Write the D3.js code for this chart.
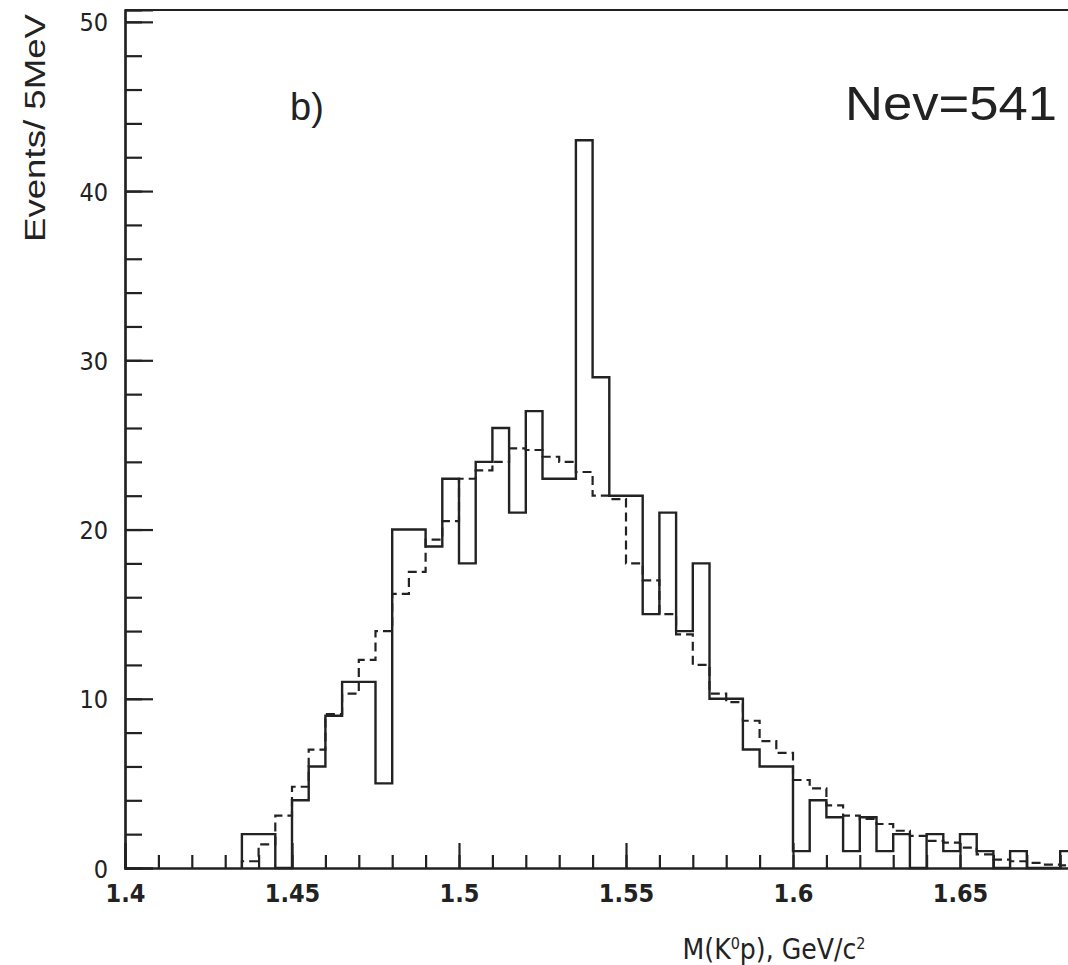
<!DOCTYPE html>
<html>
<head>
<meta charset="utf-8">
<script src="https://cdn.jsdelivr.net/npm/d3@7"></script>
<style>
    body { margin: 0; background: #fff; }
    svg { display: block; }
    text { fill: #222; font-family: "Liberation Sans Narrow", "DejaVu Sans Condensed", "Arial Narrow", "Liberation Sans", sans-serif; }
</style>
</head>
<body>
<svg id="canvas"></svg>
<script>
// bin low edges (GeV/c^2), 5 MeV bins
const BIN_EDGES = [
    1.435, 1.44, 1.445, 1.45, 1.455, 1.46, 1.465, 1.47, 1.475, 1.48,
    1.485, 1.49, 1.495, 1.50, 1.505, 1.51, 1.515, 1.52, 1.525, 1.53,
    1.535, 1.54, 1.545, 1.55, 1.555, 1.56, 1.565, 1.57, 1.575, 1.58,
    1.585, 1.59, 1.595, 1.60, 1.605, 1.61, 1.615, 1.62, 1.625, 1.63,
    1.635, 1.64, 1.645, 1.65, 1.655, 1.66, 1.665, 1.67, 1.675, 1.68
];
const BIN_WIDTH = 0.005;

// measured histogram (solid)
const EVENTS = [
    2, 2, 0, 4, 6, 9, 11, 11, 5, 20,
    20, 19, 23, 18, 24, 26, 21, 27, 23, 23,
    43, 29, 22, 22, 15, 21, 14, 18, 10, 10,
    7, 6, 6, 1, 4, 3, 1, 3, 1, 2,
    0, 2, 1, 2, 1, 0, 1, 0, 0, 1
];

// background estimate (dashed)
const BACKGROUND = [
    0.4, 1.4, 3.1, 4.8, 7.0, 9.1, 10.3, 12.3, 14.0, 16.2,
    17.5, 19.4, 20.5, 23.0, 23.5, 24.0, 24.8, 24.7, 24.3, 24.0,
    23.4, 22.0, 21.8, 18.0, 17.0, 15.0, 13.8, 12.0, 10.3, 9.8,
    8.7, 7.5, 6.8, 5.2, 4.7, 3.7, 3.1, 2.9, 2.6, 2.2,
    1.9, 1.6, 1.5, 1.2, 0.8, 0.5, 0.4, 0.3, 0.2, 0.15
];

const Y_MAJOR = [0, 10, 20, 30, 40, 50];
const Y_MINOR = d3.range(0, 51, 2);
const X_MAJOR = [1.4, 1.45, 1.5, 1.55, 1.6, 1.65];
const X_MINOR = d3.range(140, 171, 1).map(d => d / 100);

const width = 1068;
const height = 965;

const canvas = d3.select("#canvas")
    .attr("width", width)
    .attr("height", height);

// 334 px per 0.1 GeV, plot runs off the right edge like the original
const xScale = d3.scaleLinear()
    .domain([1.4, 1.7])
    .range([125, 1127]);
const yScale = d3.scaleLinear()
    .domain([0, 50.7])
    .range([868, 10]);

//Frame top line
canvas.append("line")
    .attr("x1", xScale(1.4))
    .attr("x2", width)
    .attr("y1", yScale(50.7))
    .attr("y2", yScale(50.7))
    .attr("stroke", "#222")
    .attr("stroke-width", 2.2);

//Axes, ticks pointing inward
const yMinor = canvas.append("g")
    .attr("transform", `translate(${xScale(1.4)}, 0)`)
    .call(d3.axisLeft(yScale).tickValues(Y_MINOR).tickSize(-17).tickFormat(""));
const yMajor = canvas.append("g")
    .attr("id", "y-axis")
    .attr("transform", `translate(${xScale(1.4)}, 0)`)
    .call(d3.axisLeft(yScale).tickValues(Y_MAJOR).tickSize(-28).tickPadding(17).tickFormat(d3.format("d")));

const xMinor = canvas.append("g")
    .attr("transform", `translate(0, ${yScale(0)})`)
    .call(d3.axisBottom(xScale).tickValues(X_MINOR).tickSize(-13).tickFormat(""));
const xMajor = canvas.append("g")
    .attr("id", "x-axis")
    .attr("transform", `translate(0, ${yScale(0)})`)
    .call(d3.axisBottom(xScale).tickValues(X_MAJOR).tickSize(-25).tickPadding(15).tickFormat(d => d3.format("")(d)));

canvas.selectAll(".domain, .tick line")
    .attr("stroke", "#222")
    .attr("stroke-width", 2.2);

yMajor.selectAll("text")
    .attr("font-size", 25)
    .attr("dy", "0.36em")
    .attr("x", -17);

xMajor.selectAll("text")
    .attr("font-size", 25)
    .attr("font-weight", 600)
    .attr("dy", "0.75em");

//Histograms as step lines
const stepLine = d3.line()
    .x(d => xScale(d[0]))
    .y(d => yScale(d[1]))
    .curve(d3.curveStepAfter);

function stepPoints(values) {
    const pts = [[BIN_EDGES[0], 0]];
    values.forEach((v, i) => pts.push([BIN_EDGES[i], v]));
    pts.push([BIN_EDGES[BIN_EDGES.length - 1] + BIN_WIDTH, 0]);
    return pts;
}

canvas.append("path")
    .datum(stepPoints(BACKGROUND))
    .attr("d", stepLine)
    .attr("fill", "none")
    .attr("stroke", "#222")
    .attr("stroke-width", 2.2)
    .attr("stroke-dasharray", "9,5");

canvas.append("path")
    .datum(stepPoints(EVENTS))
    .attr("d", stepLine)
    .attr("fill", "none")
    .attr("stroke", "#222")
    .attr("stroke-width", 2.4);

//Labels
canvas.append("text")
    .attr("transform", "translate(45, 128) rotate(-90)")
    .attr("text-anchor", "middle")
    .attr("font-size", 30)
    .attr("textLength", 228)
    .attr("lengthAdjust", "spacingAndGlyphs")
    .style("font-family", "'Liberation Sans', sans-serif")
    .text("Events/ 5MeV");

const xLabel = canvas.append("text")
    .attr("x", 774)
    .attr("y", 959)
    .attr("text-anchor", "middle")
    .attr("font-size", 28);
xLabel.append("tspan").text("M(K");
xLabel.append("tspan").attr("dy", -10).attr("font-size", 16).text("0");
xLabel.append("tspan").attr("dy", 10).text("p), GeV/c");
xLabel.append("tspan").attr("dy", -10).attr("font-size", 16).text("2");

canvas.append("text")
    .attr("x", 290)
    .attr("y", 120)
    .attr("font-size", 38)
    .style("font-family", "'Liberation Sans', sans-serif")
    .style("font-weight", 300)
    .text("b)");

canvas.append("text")
    .attr("x", 845)
    .attr("y", 120)
    .attr("font-size", 48)
    .attr("textLength", 212)
    .attr("lengthAdjust", "spacingAndGlyphs")
    .style("font-family", "'Liberation Sans', sans-serif")
    .style("font-weight", 300)
    .text("Nev=541");
</script>
</body>
</html>
